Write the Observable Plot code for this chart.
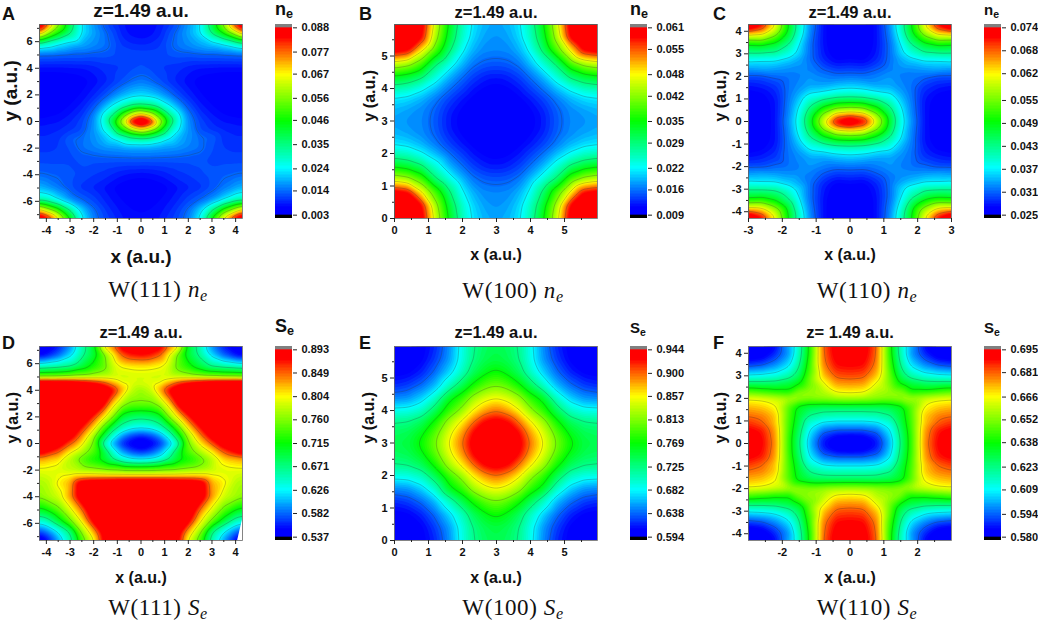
<!DOCTYPE html>
<html>
<head>
<meta charset="utf-8">
<script src="https://cdn.jsdelivr.net/npm/d3@7"></script>
<script src="https://cdn.jsdelivr.net/npm/@observablehq/plot@0.6"></script>
<style>
  html, body { margin: 0; background: #fff; }
  #page { position: relative; width: 1038px; height: 622px; overflow: hidden; font-family: "Liberation Sans", sans-serif; }
  #page > svg, .txt { position: absolute; }
  .txt { font-weight: bold; white-space: nowrap; color: #111; line-height: 1; }
  .cap { font-family: "Liberation Serif", serif; font-weight: normal; font-size: 23px; letter-spacing: .6px; transform: translateX(-50%); }
  .cap i { font-size: 23px; }
  sub { font-size: .7em; vertical-align: -0.25em; line-height: 0; }
</style>
</head>
<body>
<div id="page"></div>
<script>
const xs111 = [0, .4, .8, 1.2, 1.6, 2, 2.5, 3, 3.5, 4, 4.29]
const ysA = [7.29, 6.6, 5.8, 5, 4, 3, 2, 1.2, .6, 0, -.6, -1.2, -2, -3, -4, -5, -5.8, -6.6, -7.29]
const ysD = [7.29, 6.6, 5.8, 5, 4.6, 4, 3, 2, 1.2, .6, 0, -.6, -1.2, -2, -2.5, -3, -4, -5, -5.8, -6.6, -7.29]
const xy100 = [0, .4, .8, 1.2, 1.6, 2, 2.3, 2.6, 2.8, 2.985]
const xs110 = [0, .4, .8, 1.2, 1.5, 1.8, 2.2, 2.6, 3]
const ys110 = [0, .3, .6, .9, 1.2, 1.6, 2, 2.3, 2.7, 3, 3.4, 3.7, 4, 4.3]

const neA = [
  [.007, .0075, .0085, .0105, .0135, .0175, .0235, .04, .0585, .083, .095],
  [.0072, .0078, .0092, .0125, .0155, .0185, .0235, .035, .046, .06, .072],
  [.0095, .0098, .0108, .0135, .0155, .017, .019, .021, .024, .0285, .0315],
  [.012, .012, .012, .0125, .013, .013, .0135, .0135, .0138, .014, .0142],
  [.0125, .012, .011, .0105, .01, .009, .0082, .008, .0078, .0078, .0078],
  [.0155, .0145, .0125, .0105, .009, .0075, .0062, .0055, .005, .0048, .0048],
  [.0225, .0215, .019, .0155, .0118, .0095, .0072, .006, .005, .0045, .0045],
  [.0365, .035, .03, .0245, .018, .0125, .0088, .007, .0058, .005, .005],
  [.068, .06, .048, .033, .0245, .0155, .0103, .0082, .0068, .0062, .006],
  [.1, .088, .062, .042, .027, .017, .0118, .0095, .0082, .0078, .0075],
  [.068, .06, .048, .033, .0245, .0175, .0122, .0105, .0095, .009, .009],
  [.0365, .035, .03, .0245, .02, .017, .0145, .0135, .0105, .0098, .0098],
  [.0185, .0185, .018, .0175, .017, .016, .0148, .0125, .011, .0105, .0105],
  [.0125, .0125, .0125, .0125, .0125, .0125, .0125, .012, .012, .012, .012],
  [.0075, .0078, .0085, .0095, .0105, .011, .012, .0128, .0135, .014, .0143],
  [.005, .0052, .0058, .007, .0082, .0093, .0105, .0128, .0155, .0185, .02],
  [.0058, .006, .0068, .008, .0095, .0115, .0135, .0165, .0225, .029, .03],
  [.0068, .007, .0078, .0092, .0115, .0145, .0215, .0335, .048, .06, .068],
  [.0072, .0075, .0085, .0105, .0125, .016, .0255, .047, .07, .088, .095]
]
const neB = [
  [.078, .072, .061, .046, .0345, .026, .0215, .0195, .0188, .0185],
  [.072, .067, .059, .044, .033, .025, .0208, .0187, .018, .0178],
  [.061, .059, .0485, .039, .03, .0225, .0192, .0175, .0173, .0172],
  [.046, .044, .039, .03, .0245, .0195, .0167, .0156, .0153, .0152],
  [.0345, .033, .03, .0245, .0195, .0162, .0142, .013, .0125, .0125],
  [.026, .025, .0225, .0195, .0162, .0138, .0122, .0112, .0108, .0106],
  [.0215, .0208, .0192, .0167, .0142, .0122, .011, .0102, .0099, .0098],
  [.0195, .0187, .0175, .0156, .013, .0112, .0102, .0097, .0094, .0093],
  [.0188, .018, .0173, .0153, .0125, .0108, .0099, .0094, .0092, .0091],
  [.0185, .0178, .0172, .0152, .0125, .0106, .0098, .0093, .0091, .009]
]
const neC = [
  [.078, .073, .06, .047, .039, .0335, .028, .026, .0255],
  [.067, .065, .056, .046, .0385, .033, .028, .026, .0255],
  [.0555, .0545, .05, .0435, .0375, .0328, .028, .0262, .0258],
  [.0475, .047, .0445, .0405, .036, .0325, .028, .0265, .026],
  [.0405, .04, .0385, .0375, .0345, .0322, .0285, .027, .0265],
  [.0355, .035, .034, .034, .033, .032, .0295, .0285, .028],
  [.032, .0318, .0325, .0335, .0325, .032, .0315, .0305, .0305],
  [.03, .0298, .031, .0325, .033, .033, .0335, .034, .0335],
  [.0275, .0272, .029, .032, .034, .0355, .037, .037, .0375],
  [.0265, .0263, .0283, .032, .036, .039, .042, .0425, .0425],
  [.0258, .0257, .028, .032, .037, .0425, .0475, .0495, .049],
  [.0254, .0254, .028, .0325, .0385, .046, .053, .058, .0575],
  [.0252, .0253, .028, .033, .04, .048, .059, .066, .069],
  [.0252, .0253, .028, .0335, .0405, .0485, .062, .073, .08]
]
const seD = [
  [.91, .905, .895, .845, .808, .705, .655, .595, .56, .54, .53],
  [.875, .87, .85, .8, .745, .7, .665, .62, .585, .56, .552],
  [.812, .81, .805, .785, .745, .725, .695, .668, .66, .654, .65],
  [.79, .79, .788, .788, .785, .78, .773, .768, .762, .76, .758],
  [.795, .797, .8, .825, .855, .875, .895, .91, .915, .92, .92],
  [.77, .785, .83, .885, .92, .945, .96, .97, .97, .97, .97],
  [.755, .755, .775, .82, .893, .95, .98, .99, 1, 1, 1],
  [.68, .685, .7, .765, .815, .865, .93, .97, 1, 1, 1],
  [.63, .635, .655, .69, .75, .815, .875, .93, .97, .99, 1],
  [.565, .575, .6, .645, .705, .775, .84, .9, .94, .96, .97],
  [.53, .545, .565, .605, .66, .755, .81, .855, .905, .93, .94],
  [.565, .575, .6, .645, .7, .745, .78, .81, .855, .885, .9],
  [.625, .63, .645, .675, .705, .72, .745, .78, .815, .825, .83],
  [.755, .755, .757, .76, .765, .77, .775, .785, .795, .798, .798],
  [.83, .83, .83, .83, .83, .83, .825, .81, .8, .79, .785],
  [.94, .94, .94, .935, .93, .925, .91, .83, .81, .78, .775],
  [.96, .96, .96, .96, .955, .94, .91, .835, .79, .775, .765],
  [.98, .98, .98, .98, .97, .925, .845, .795, .748, .715, .705],
  [.98, .98, .98, .97, .95, .89, .81, .755, .7, .655, .645],
  [.97, .97, .96, .94, .895, .83, .77, .675, .63, .59, .575],
  [.96, .96, .95, .92, .88, .8, .74, .655, .6, .55, .53]
]
const seE = [
  [.58, .59, .605, .622, .651, .693, .722, .737, .743, .745],
  [.59, .595, .608, .628, .655, .695, .725, .742, .748, .75],
  [.605, .608, .62, .642, .672, .708, .74, .76, .77, .774],
  [.622, .628, .642, .665, .705, .745, .775, .797, .807, .81],
  [.651, .655, .672, .705, .76, .79, .825, .845, .853, .857],
  [.693, .695, .708, .745, .79, .828, .862, .885, .895, .9],
  [.722, .725, .74, .775, .825, .862, .895, .925, .935, .94],
  [.737, .742, .76, .797, .845, .885, .925, .95, .955, .96],
  [.743, .748, .77, .807, .853, .895, .935, .955, .96, .965],
  [.745, .75, .774, .81, .857, .9, .94, .96, .965, .97]
]
const seF = [
  [.575, .58, .587, .604, .624, .643, .677, .691, .702],
  [.583, .584, .59, .606, .625, .643, .676, .69, .696],
  [.594, .594, .597, .609, .627, .644, .675, .688, .692],
  [.605, .605, .607, .614, .63, .645, .672, .682, .686],
  [.617, .617, .618, .622, .632, .646, .672, .679, .681],
  [.628, .628, .628, .63, .634, .647, .667, .672, .674],
  [.658, .657, .655, .653, .655, .657, .661, .664, .665],
  [.668, .667, .658, .655, .652, .64, .641, .644, .647],
  [.678, .677, .665, .65, .636, .63, .626, .625, .625],
  [.684, .683, .672, .648, .628, .619, .613, .611, .61],
  [.69, .689, .677, .644, .623, .609, .601, .596, .594],
  [.694, .692, .679, .642, .62, .604, .594, .587, .585],
  [.696, .694, .68, .64, .618, .6, .589, .581, .578],
  [.702, .695, .681, .64, .617, .602, .586, .578, .572]
]
// blank wedge in the lower right corner of the W(111) Se map
const gapD = [{ x: 4.29, y: -5.55 }, { x: 4.06, y: -7.29 }, { x: 4.29, y: -7.29 }]

const ticksA = [.003, .014, .024, .035, .046, .056, .067, .077, .088]
const ticksB = [.009, .016, .022, .029, .035, .042, .048, .055, .061]
const ticksC = [.025, .031, .037, .043, .049, .055, .062, .068, .074]
const ticksD = [.537, .582, .626, .671, .715, .76, .804, .849, .893]
const ticksE = [.594, .638, .682, .725, .769, .813, .857, .9, .944]
const ticksF = [.58, .594, .609, .623, .638, .652, .666, .681, .695]

const rainbow = ['#0000ff', '#0000ff', '#00ffff', '#00ff00', '#ffff00', '#ff0000', '#ff0000']
const rainbowAt = [0, .04, .25, .5, .75, .95, 1]

// rows are stored for one half or one quadrant, the panels are mirror symmetric
function toPoints(xs, ys, rows, cx, cy) {
  const pts = []
  rows.forEach((row, i) => row.forEach((v, j) => {
    const ax = cx == null || xs[j] === cx ? [xs[j]] : [xs[j], 2 * cx - xs[j]]
    const ay = cy == null || ys[i] === cy ? [ys[i]] : [ys[i], 2 * cy - ys[i]]
    ax.forEach(x => ay.forEach(y => pts.push({ x, y, v })))
  }))
  return pts
}

const panels = [
  { letter: 'A', left: 39, top: 24, xd: [-4.29, 4.29], yd: [-7.29, 7.29], pts: toPoints(xs111, ysA, neA, 0, null), ticks: ticksA, lines: ticksA.slice(1, 8),
    xt: d3.range(-4, 5), xm: d3.range(-3.5, 4), yt: d3.range(-6, 7, 2), ym: d3.range(-7, 8, 2), name: 'n', cap: 'W(111)', tFont: 19, tDy: -21.5, lFont: 19, ly: 44, lx: -29, nFont: 18, nTop: -24, capTop: 254 },
  { letter: 'B', left: 394, top: 24, xd: [0, 5.97], yd: [0, 5.97], pts: toPoints(xy100, xy100, neB, 2.985, 2.985), ticks: ticksB, lines: ticksB.slice(1, 8),
    xt: d3.range(0, 6), xm: d3.range(.5, 6), yt: d3.range(0, 6), ym: d3.range(.5, 6), name: 'n', cap: 'W(100)', tFont: 16.5, tDy: -18.5, lFont: 16, ly: 41, lx: -25, nFont: 18, nTop: -24, capTop: 255 },
  { letter: 'C', left: 748, top: 24, xd: [-3, 3], yd: [-4.3, 4.3], pts: toPoints(xs110, ys110, neC, 0, 0), ticks: ticksC, lines: ticksC.slice(1, 8),
    xt: d3.range(-3, 4), xm: d3.range(-2.5, 3), yt: d3.range(-4, 5), ym: d3.range(-3.5, 4), name: 'n', cap: 'W(110)', tFont: 16.5, tDy: -18.5, lFont: 16, ly: 41, lx: -28, nFont: 15, nTop: -22, capTop: 255 },
  { letter: 'D', left: 39, top: 346, xd: [-4.29, 4.29], yd: [-7.29, 7.29], pts: toPoints(xs111, ysD, seD, 0, null), ticks: ticksD, lines: ticksD.slice(2, 8), gap: gapD,
    xt: d3.range(-4, 5), xm: d3.range(-3.5, 4), yt: d3.range(-6, 7, 2), ym: d3.range(-7, 8, 2), name: 'S', cap: 'W(111)', tFont: 16.5, tDy: -20.5, lFont: 16, ly: 42, lx: -27, nFont: 18, nTop: -29, capTop: 250 },
  { letter: 'E', left: 394, top: 346, xd: [0, 5.97], yd: [0, 5.97], pts: toPoints(xy100, xy100, seE, 2.985, 2.985), ticks: ticksE, lines: ticksE.slice(1, 8),
    xt: d3.range(0, 6), xm: d3.range(.5, 6), yt: d3.range(0, 6), ym: d3.range(.5, 6), name: 'S', cap: 'W(100)', tFont: 16.5, tDy: -20.5, lFont: 16, ly: 42, lx: -26, nFont: 15, nTop: -26, capTop: 250 },
  { letter: 'F', left: 748, top: 346, xd: [-3, 3], yd: [-4.3, 4.3], pts: toPoints(xs110, ys110, seF, 0, 0), ticks: ticksF, lines: [.594, .609, .623, .638, .666, .681],
    xt: d3.range(-2, 3), xm: d3.range(-2.5, 3), yt: d3.range(-4, 5), ym: d3.range(-3.5, 4), name: 'S', cap: 'W(110)', tFont: 16.5, tDy: -20.5, lFont: 16, ly: 42, lx: -28, nFont: 15, nTop: -26, capTop: 250, title: 'z= 1.49 a.u.' }
]

const page = d3.select('#page')
const fw = 203, fh = 194, ml = 40, mt = 24, mb = 70

panels.forEach(p => {
  const lo = p.ticks[0], hi = p.ticks[8]
  const color = { type: 'linear', domain: rainbowAt.map(t => lo + t * (hi - lo)), range: rainbow, clamp: true }
  const levels = [lo - 1, ...d3.range(65).map(i => lo + i * (hi - lo) / 64)]

  let chart = Plot.plot({
    width: ml + fw + 2, height: mt + fh + mb,
    marginLeft: ml, marginRight: 2, marginTop: mt, marginBottom: mb,
    style: { fontFamily: '"Liberation Sans", sans-serif', color: '#111', overflow: 'visible' },
    x: { domain: p.xd, label: null },
    y: { domain: p.yd, label: null },
    color,
    marks: [
      Plot.contour(p.pts, { x: 'x', y: 'y', fill: 'v', thresholds: levels, interpolate: 'barycentric', pixelSize: 1, blur: 2, clip: true }),
      Plot.contour(p.pts, { x: 'x', y: 'y', value: 'v', thresholds: p.lines, interpolate: 'barycentric', pixelSize: 1, blur: 2, stroke: '#333', strokeOpacity: .38, strokeWidth: .7, fill: 'none', clip: true }),
      p.gap ? Plot.line(p.gap, { x: 'x', y: 'y', fill: 'white', stroke: null }) : null,
      Plot.frame({ stroke: '#666', strokeWidth: .8 }),
      Plot.axisX(p.xm, { tickSize: 2, text: null, label: null, stroke: '#222' }),
      Plot.axisY(p.ym, { tickSize: 2, text: null, label: null, stroke: '#222' }),
      Plot.axisX(p.xt, { tickSize: 4, tickPadding: 4, tickFormat: String, fontSize: 11, fontWeight: 'bold', label: null, stroke: '#222', fill: '#111' }),
      Plot.axisY(p.yt, { tickSize: 4, tickPadding: 3, tickFormat: String, fontSize: 11, fontWeight: 'bold', label: null, stroke: '#222', fill: '#111' }),
      Plot.text([p.title || 'z=1.49 a.u.'], { frameAnchor: 'top', dy: p.tDy, fontSize: p.tFont, fontWeight: 'bold', fill: '#111' }),
      Plot.text(['x (a.u.)'], { frameAnchor: 'bottom', dy: p.ly, fontSize: p.lFont, fontWeight: 'bold', fill: '#111' }),
      Plot.text(['y (a.u.)'], { frameAnchor: 'left', dx: p.lx, rotate: -90, fontSize: p.lFont, fontWeight: 'bold', fill: '#111' })
    ]
  })
  page.append(() => chart).style('left', `${p.left - ml}px`).style('top', `${p.top - mt}px`)

  // colour bar, with the grey and black end caps of the scale
  const cap = (hi - lo) * .0178
  const bins = d3.range(128).map(i => ({ y1: lo + i * (hi - lo) / 128, y2: lo + (i + 1) * (hi - lo) / 128 }))
  let bar = Plot.plot({
    width: 58, height: mt + fh + mb,
    marginLeft: 1, marginRight: 40, marginTop: mt, marginBottom: mb,
    style: { fontFamily: '"Liberation Sans", sans-serif', color: '#111', overflow: 'visible' },
    x: { domain: [0, 1], axis: null },
    y: { domain: [lo - cap, hi + cap], label: null },
    color,
    marks: [
      Plot.rect(bins, { x1: 0, x2: 1, y1: 'y1', y2: 'y2', fill: d => (d.y1 + d.y2) / 2, shapeRendering: 'crispEdges' }),
      Plot.rect([0], { x1: 0, x2: 1, y1: lo - cap, y2: lo, fill: '#000' }),
      Plot.rect([0], { x1: 0, x2: 1, y1: hi, y2: hi + cap, fill: '#808080' }),
      Plot.axisY(p.ticks, { anchor: 'right', tickSize: 4, tickPadding: 5, tickFormat: d => d.toFixed(3), fontSize: 11, fontWeight: 'bold', label: null, stroke: '#222', fill: '#111' })
    ]
  })
  const barLeft = p.left + 236
  page.append(() => bar).style('left', `${barLeft - 1}px`).style('top', `${p.top - mt}px`)

  page.append('div').attr('class', 'txt').style('left', `${barLeft}px`).style('top', `${p.top + p.nTop}px`)
    .style('font-size', `${p.nFont}px`)
    .html(`${p.name}<sub>e</sub>`)
  page.append('div').attr('class', 'txt').style('left', `${p.left - (p.left < 100 ? 37 : 35)}px`).style('top', `${p.top - (p.top < 100 ? 19 : 12)}px`)
    .style('font-size', '18px').text(p.letter)
  page.append('div').attr('class', 'txt cap').style('left', `${p.left + 119}px`).style('top', `${p.top + p.capTop}px`)
    .html(`${p.cap} <i>${p.name}<sub>e</sub></i>`)
})
</script>
</body>
</html>
